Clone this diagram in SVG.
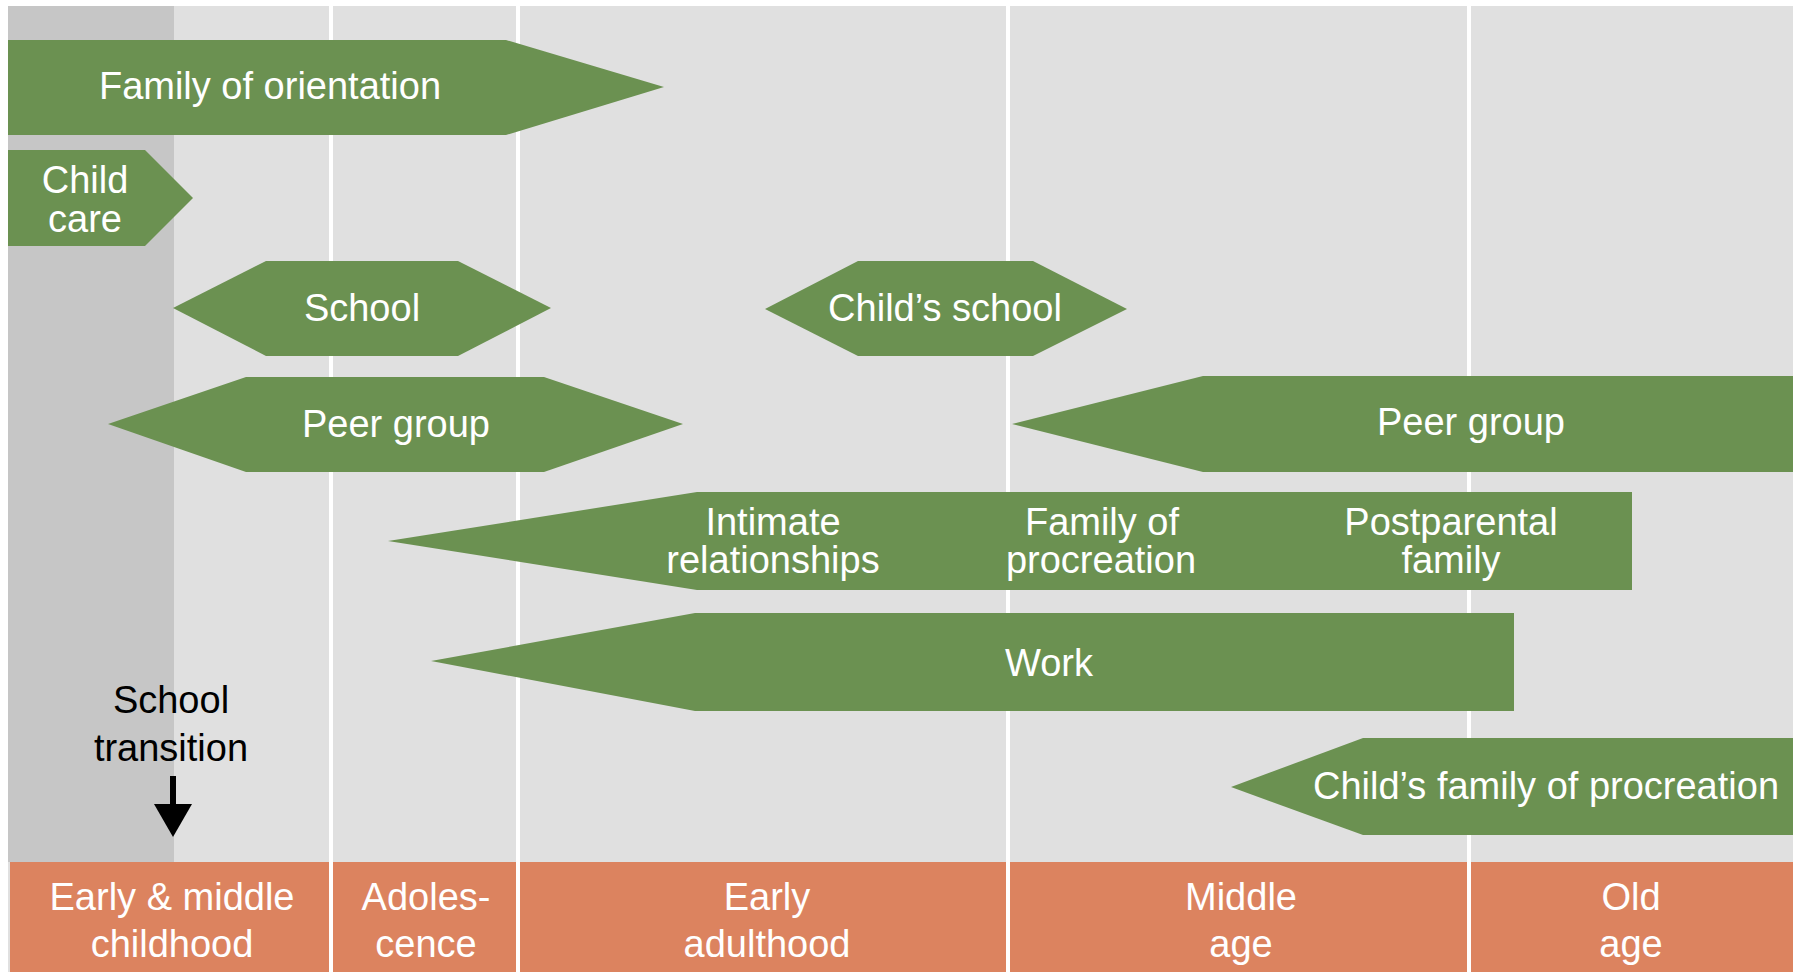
<svg xmlns="http://www.w3.org/2000/svg" width="1793" height="972" viewBox="0 0 1793 972">
<style>
.bar{fill:#6b9151}
.t{font-family:"Liberation Sans",Arial,sans-serif;font-size:38px;fill:#ffffff;text-anchor:middle}
.k{font-family:"Liberation Sans",Arial,sans-serif;font-size:38px;fill:#000000;text-anchor:middle}
.sep{stroke:#ffffff;stroke-width:4}
</style>
<defs>
<marker id="ah" viewBox="0 0 33 38" refX="1" refY="19" markerWidth="33" markerHeight="38" markerUnits="userSpaceOnUse" orient="auto">
<path d="M0,0 L33,19 L0,38 Z" fill="#000000"/>
</marker>
</defs>
<rect x="0" y="0" width="1793" height="972" fill="#ffffff"/>
<g id="background">
<rect x="8" y="6" width="1785" height="966" fill="#e0e0e0"/>
<rect x="8" y="6" width="166" height="856" fill="#c6c6c6"/>
<rect x="10" y="862" width="1783" height="110" fill="#dc835f"/>
<line class="sep" x1="331" y1="6" x2="331" y2="972"/>
<line class="sep" x1="518" y1="6" x2="518" y2="972"/>
<line class="sep" x1="1008" y1="6" x2="1008" y2="972"/>
<line class="sep" x1="1469" y1="6" x2="1469" y2="972"/>
</g>
<g id="family-of-orientation">
<polygon class="bar" points="8,40 506,40 664,87 506,135 8,135"/>
<text class="t" x="270" y="99">Family of orientation</text>
</g>
<g id="child-care">
<polygon class="bar" points="8,150 145,150 193,198 145,246 8,246"/>
<text class="t" x="85" y="193">Child</text>
<text class="t" x="85" y="232">care</text>
</g>
<g id="school">
<polygon class="bar" points="173,308 266,261 458,261 551,308 458,356 266,356"/>
<text class="t" x="362" y="321">School</text>
</g>
<g id="childs-school">
<polygon class="bar" points="765,309 858,261 1033,261 1127,309 1033,356 858,356"/>
<text class="t" x="945" y="321">Child’s school</text>
</g>
<g id="peer-group-young">
<polygon class="bar" points="108,424 246,377 544,377 683,424 544,472 246,472"/>
<text class="t" x="396" y="437">Peer group</text>
</g>
<g id="peer-group-adult">
<polygon class="bar" points="1012,424 1203,376 1793,376 1793,472 1203,472"/>
<text class="t" x="1471" y="435">Peer group</text>
</g>
<g id="intimate-family-postparental">
<polygon class="bar" points="388,541 697,492 1632,492 1632,590 697,590"/>
<text class="t" x="773" y="535">Intimate</text>
<text class="t" x="773" y="573">relationships</text>
<text class="t" x="1102" y="535">Family of</text>
<text class="t" x="1101" y="573">procreation</text>
<text class="t" x="1451" y="535">Postparental</text>
<text class="t" x="1451" y="573">family</text>
</g>
<g id="work">
<polygon class="bar" points="431,661 695,613 1514,613 1514,711 695,711"/>
<text class="t" x="1049" y="676">Work</text>
</g>
<g id="childs-family-of-procreation">
<polygon class="bar" points="1231,787 1363,738 1793,738 1793,835 1363,835"/>
<text class="t" x="1546" y="799">Child’s family of procreation</text>
</g>
<g id="school-transition">
<text class="k" x="171" y="713">School</text>
<text class="k" x="171" y="761">transition</text>
</g>
<g id="connectors">
<line x1="173" y1="776" x2="173" y2="805" stroke="#000000" stroke-width="6" marker-end="url(#ah)"/>
</g>
<g id="stage-early-middle-childhood">
<text class="t" x="172" y="910">Early &amp; middle</text>
<text class="t" x="172" y="957">childhood</text>
</g>
<g id="stage-adolescence">
<text class="t" x="426" y="910">Adoles-</text>
<text class="t" x="426" y="957">cence</text>
</g>
<g id="stage-early-adulthood">
<text class="t" x="767" y="910">Early</text>
<text class="t" x="767" y="957">adulthood</text>
</g>
<g id="stage-middle-age">
<text class="t" x="1241" y="910">Middle</text>
<text class="t" x="1241" y="957">age</text>
</g>
<g id="stage-old-age">
<text class="t" x="1631" y="910">Old</text>
<text class="t" x="1631" y="957">age</text>
</g>
</svg>
